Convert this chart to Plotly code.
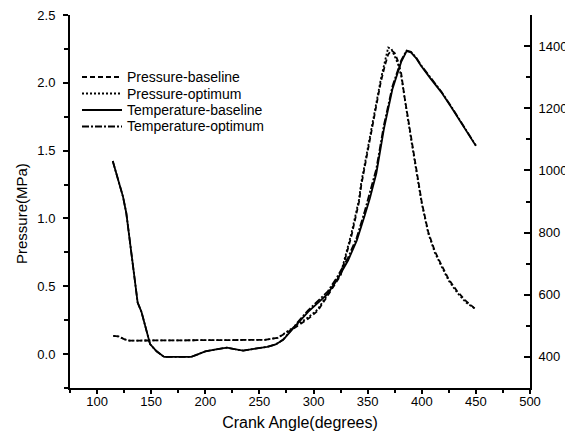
import plotly.graph_objects as go

# Pressure (MPa) vs crank angle (degrees)
p_base_x = [115, 120, 125, 130, 140, 160, 180, 200, 220, 240, 255, 267, 282, 295, 304, 313,
            325, 335, 342, 344, 350, 353, 358, 362, 366, 369, 372, 375, 378, 381, 384, 390,
            396, 400, 406, 412, 418, 425, 433, 441, 450]
p_base_y = [0.135, 0.13, 0.11, 0.10, 0.10, 0.10, 0.10, 0.10, 0.10, 0.10, 0.105, 0.12, 0.19,
            0.26, 0.32, 0.43, 0.58, 0.87, 1.12, 1.24, 1.49, 1.63, 1.84, 2.00, 2.13, 2.21, 2.24,
            2.22, 2.16, 2.07, 1.90, 1.60, 1.31, 1.12, 0.90, 0.76, 0.66, 0.55, 0.46, 0.39, 0.33]

p_opt_x = [115, 120, 125, 130, 140, 160, 180, 200, 220, 240, 255, 267, 282, 295, 304, 313,
           325, 335, 342, 344, 350, 353, 358, 362, 366, 369, 372, 375, 378, 381, 384, 390,
           396, 400, 406, 412, 418, 425, 433, 441, 450]
p_opt_y = [0.135, 0.13, 0.11, 0.10, 0.10, 0.10, 0.10, 0.10, 0.10, 0.10, 0.105, 0.12, 0.20,
           0.27, 0.33, 0.44, 0.59, 0.89, 1.14, 1.26, 1.51, 1.65, 1.86, 2.02, 2.16, 2.26, 2.25,
           2.20, 2.14, 2.05, 1.89, 1.59, 1.30, 1.11, 0.89, 0.75, 0.65, 0.54, 0.45, 0.38, 0.33]

# Temperature (K) vs crank angle (degrees)
t_base_x = [114.5, 119, 124, 127, 133, 137.5, 141, 145, 149, 155, 162, 175, 187, 193, 200,
            210, 220, 227, 235, 245, 257, 265, 272, 282, 295, 313, 322, 332, 340, 347, 352,
            358, 365, 373, 381, 386, 390, 395, 399, 408, 418, 427, 436, 443, 450]
t_base_y = [1030, 975, 915, 863, 700, 575, 545, 490, 441, 418, 400, 400, 400, 408, 418,
            424, 430, 425, 420, 426, 432, 440, 455, 495, 545, 603, 650, 711, 775, 852, 910,
            990, 1133, 1263, 1349, 1384, 1380, 1360, 1338, 1296, 1252, 1205, 1155, 1118, 1079]

t_opt_x = [114.5, 119, 124, 127, 133, 137.5, 141, 145, 149, 155, 162, 175, 187, 193, 200,
           210, 220, 227, 235, 245, 257, 265, 272, 282, 295, 313, 322, 332, 340, 347, 352,
           358, 365, 373, 381, 386, 390, 395, 399, 408, 418, 427, 436, 443, 450]
t_opt_y = [1030, 975, 915, 863, 700, 575, 545, 490, 441, 418, 400, 400, 400, 408, 418,
           424, 430, 425, 420, 426, 432, 440, 456, 498, 550, 610, 658, 720, 785, 865, 925,
           1005, 1145, 1272, 1354, 1386, 1382, 1362, 1340, 1298, 1254, 1207, 1157, 1120, 1080]

x_ticks = [100, 150, 200, 250, 300, 350, 400, 450, 500]
p_ticks = [0.0, 0.5, 1.0, 1.5, 2.0, 2.5]
t_ticks = [400, 600, 800, 1000, 1200, 1400]

series_names = ["Pressure-baseline", "Pressure-optimum", "Temperature-baseline", "Temperature-optimum"]
series_dash = ["5px,3px", "2px,2px", "solid", "7px,2px,2px,2px"]

fig = go.Figure()
lw = 1.8
data = [(p_base_x, p_base_y, "y"), (p_opt_x, p_opt_y, "y"),
        (t_base_x, t_base_y, "y2"), (t_opt_x, t_opt_y, "y2")]
for (xs, ys, ax), name, dash in zip(data, series_names, series_dash):
    fig.add_trace(go.Scatter(x=xs, y=ys, mode="lines", name=name, yaxis=ax, showlegend=False,
                             line=dict(color="black", width=lw, dash=dash)))

# Page is offset by the 8px body margin; work in figure coordinates
OFF = 8
W, H = 573 - OFF, 443 - OFF
L, R, T, B = 70 - OFF, 530 - OFF, 15 - OFF, 388 - OFF
def px(xp):
    return (xp - OFF - L) / (R - L)
def py(yp):
    return (B - (yp - OFF)) / (B - T)

row_y = [77, 93.5, 110, 126.5]
shapes = []
annotations = []
for name, dash, yy in zip(series_names, series_dash, row_y):
    shapes.append(dict(type="line", xref="paper", yref="paper", x0=px(82), x1=px(122),
                       y0=py(yy), y1=py(yy), line=dict(color="black", width=1.8, dash=dash)))
    annotations.append(dict(text=name, xref="paper", yref="paper", x=px(125), y=py(yy),
                            xanchor="left", yanchor="middle", showarrow=False,
                            font=dict(size=14)))

annotations.append(dict(text="Pressure(MPa)", textangle=-90, xref="paper", yref="paper",
                        x=px(21), y=py(214), xanchor="center", yanchor="middle",
                        showarrow=False, font=dict(size=15)))

font = "Liberation Sans, Arial, sans-serif"
fig.update_layout(
    width=W, height=H,
    margin=dict(l=L, r=W - R, t=T, b=H - B),
    plot_bgcolor="white", paper_bgcolor="white",
    font=dict(family=font, size=13, color="black"),
    showlegend=False,
    xaxis=dict(range=[75, 500], tickvals=x_ticks, showgrid=False, zeroline=False,
               automargin=False, ticklabeloverflow="allow",
               showline=True, linecolor="black", linewidth=2, ticks="outside", ticklen=4,
               tickwidth=1.5, tickcolor="black", ticklabelstandoff=-4,
               minor=dict(dtick=25, tick0=75, ticks="outside", ticklen=3, tickcolor="black"),
               title=dict(text="Crank Angle(degrees)", font=dict(size=16), standoff=9)),
    yaxis=dict(range=[-0.25, 2.5], tickvals=p_ticks, ticktext=[f"{v:.1f}" for v in p_ticks],
               automargin=False, ticklabeloverflow="allow",
               showgrid=False, zeroline=False, showline=True, linecolor="black", linewidth=2,
               ticks="outside", ticklen=5, tickwidth=1.5, tickcolor="black",
               minor=dict(dtick=0.25, tick0=0, ticks="outside", ticklen=4, tickcolor="black"),
               ticklabelstandoff=5),
    yaxis2=dict(range=[300, 1500], tickvals=t_ticks, overlaying="y", side="right",
                automargin=False, ticklabeloverflow="allow",
                showgrid=False, zeroline=False, showline=True, linecolor="black", linewidth=2,
                ticks="inside", ticklen=6, tickwidth=1.5, tickcolor="black",
                minor=dict(dtick=100, tick0=300, ticks="inside", ticklen=4, tickcolor="black"),
                ticklabelstandoff=4),
    shapes=shapes,
    annotations=annotations,
)

fig.write_html("out.html")
